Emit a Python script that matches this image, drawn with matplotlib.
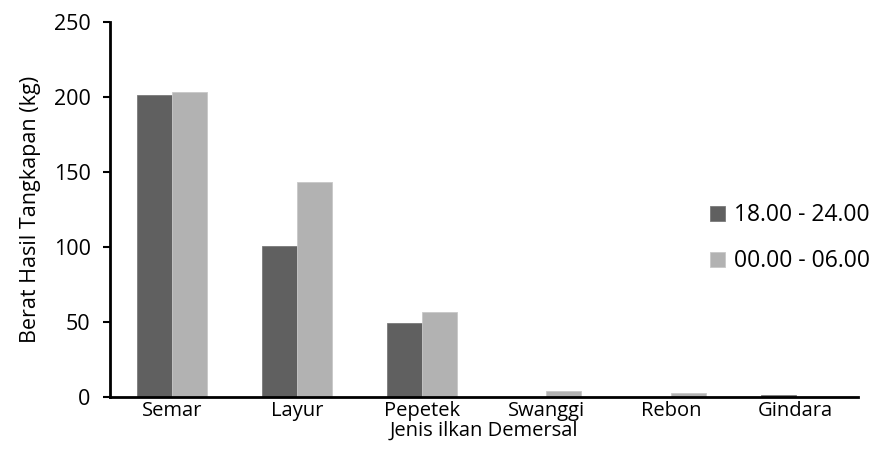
import numpy as np
import matplotlib
matplotlib.use("Agg")
import matplotlib.pyplot as plt

categories = ["Semar", "Layur", "Pepetek", "Swanggi", "Rebon", "Gindara"]
malam_awal = [201, 100.5, 49, 0, 0, 1.5]     # 18.00 - 24.00
malam_akhir = [203, 143, 56.5, 4, 2.7, 0]    # 00.00 - 06.00
series_labels = ["18.00 - 24.00", "00.00 - 06.00"]
yticks = [0, 50, 100, 150, 200, 250]

plt.rcParams['font.family'] = ['Open Sans', 'DejaVu Sans']
fs = 15.5
fsx = 14.5

fig = plt.figure(figsize=(8.71, 4.70), dpi=100)
ax = fig.add_axes([0.1263, 0.1553, 0.8588, 0.798])

x = np.arange(len(categories))
w = 0.28
ax.bar(x - w/2, malam_awal, w, color="#606060", edgecolor="#7a7a7a", linewidth=0.6, label=series_labels[0])
ax.bar(x + w/2, malam_akhir, w, color="#b2b2b2", edgecolor="#c8c8c8", linewidth=0.6, label=series_labels[1])

ax.set_xlim(-0.5, len(categories) - 0.5)
ax.set_ylim(0, 250)
ax.set_yticks(yticks)
ax.set_xticks(x)
ax.set_xticklabels(categories)
ax.tick_params(axis='x', length=0, labelsize=fsx, pad=3)
ax.tick_params(axis='y', length=5, width=1.5, labelsize=fs, direction='out', pad=9)

for s in ["top", "right"]:
    ax.spines[s].set_visible(False)
for s in ["left", "bottom"]:
    ax.spines[s].set_linewidth(2)

ax.set_ylabel("Berat Hasil Tangkapan (kg)", fontsize=fs, labelpad=9)
ax.set_xlabel("Jenis ilkan Demersal", fontsize=fsx, labelpad=0)

ax.legend(loc="center left", bbox_to_anchor=(0.79, 0.423), frameon=False,
          fontsize=16.5, handlelength=0.65, handleheight=0.65, labelspacing=0.95,
          handletextpad=0.4, borderaxespad=0)

fig.savefig("out.png", dpi=100)
